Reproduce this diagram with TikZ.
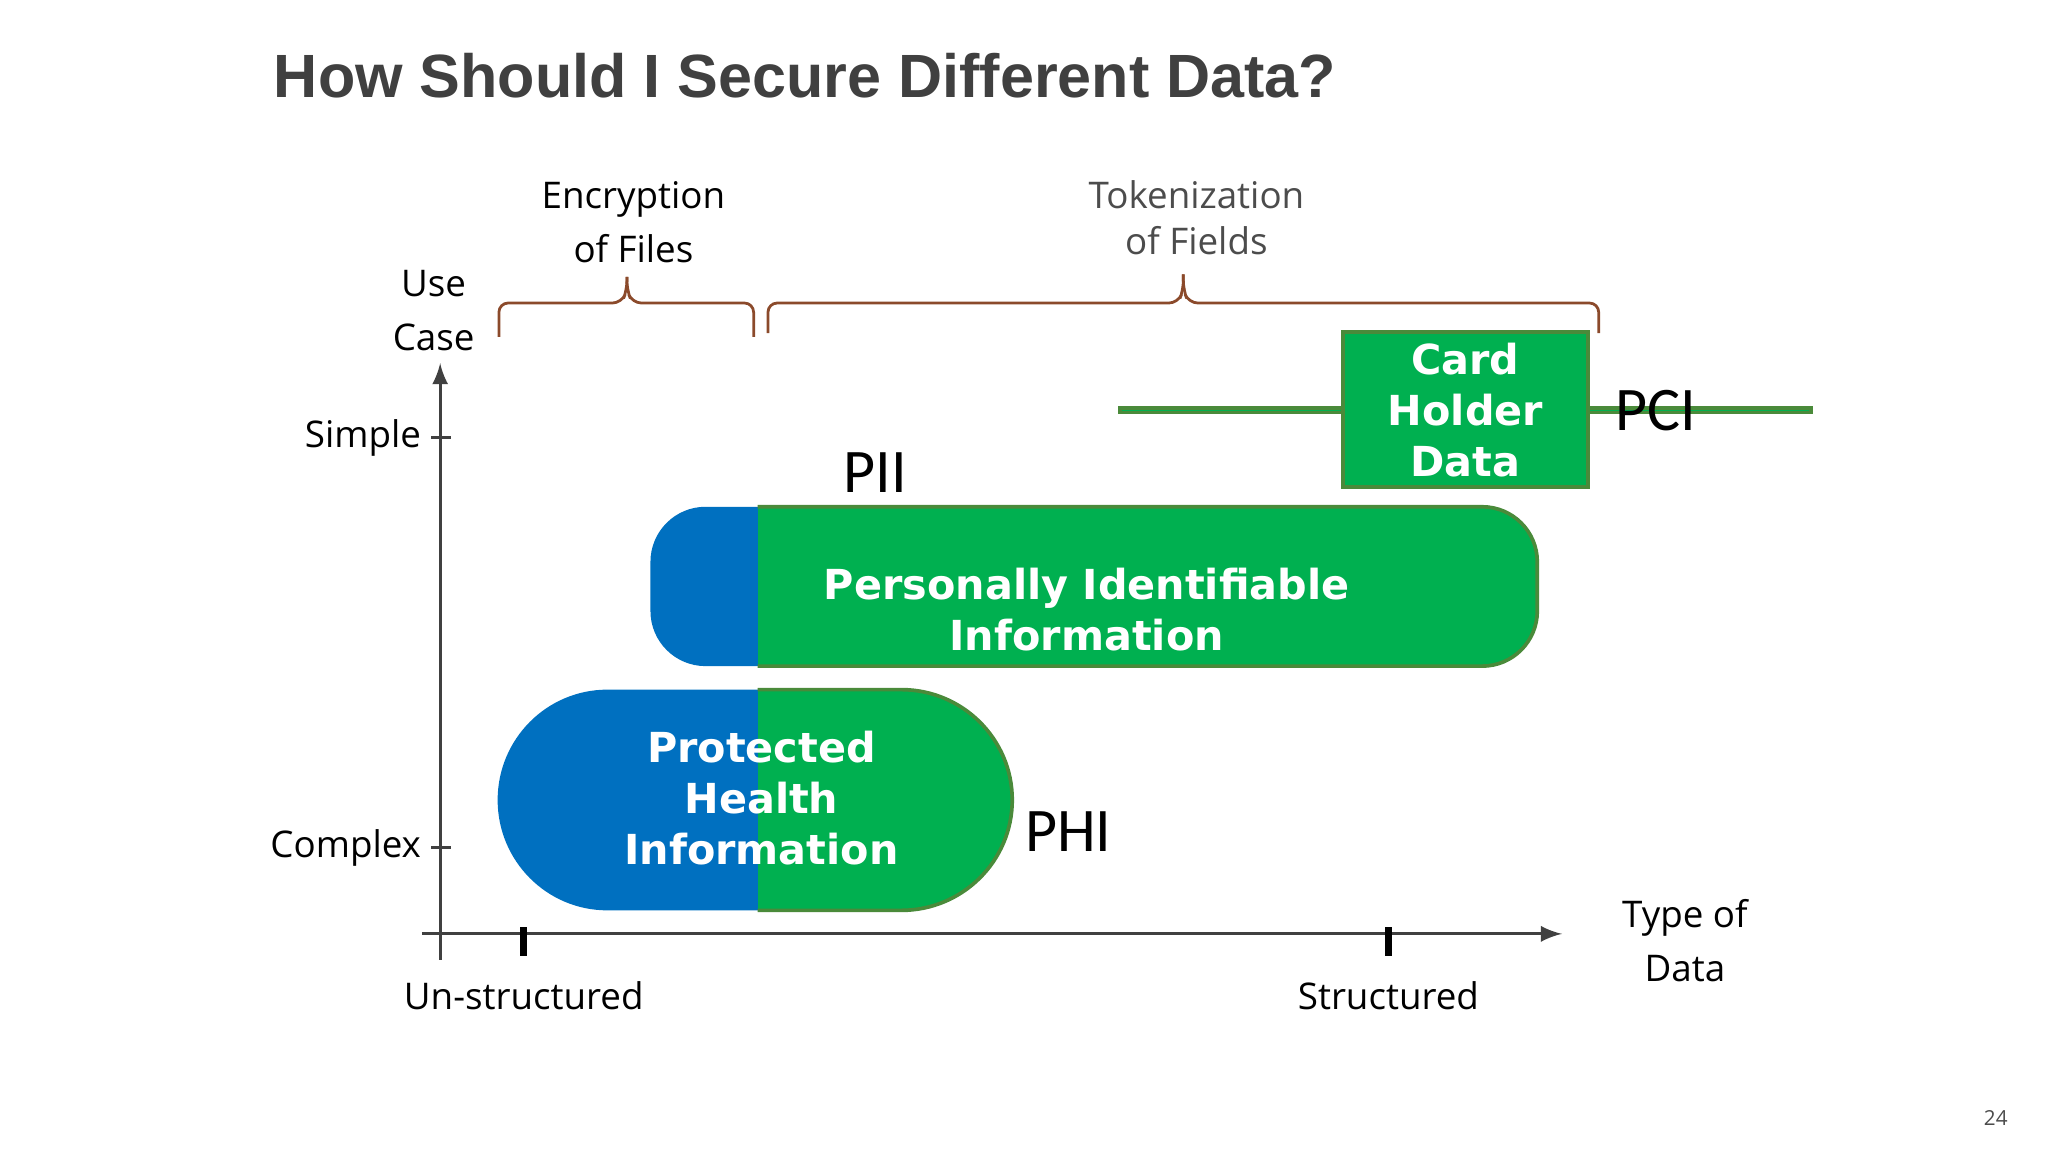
\documentclass[tikz,border=0pt]{standalone}
\usepackage{fontspec}
\setmainfont{Open Sans}
\newfontfamily\titlefont{Liberation Sans}
\newfontfamily\boxfont{DejaVu Sans}
\newfontfamily\bigfont{Carlito}
\definecolor{myblue}{HTML}{0070C0}
\definecolor{mygreen}{HTML}{00B050}
\definecolor{myborder}{HTML}{4A8A3A}
\definecolor{mybrown}{HTML}{8B4A2B}
\definecolor{titlegray}{HTML}{404040}
\begin{document}
\begin{tikzpicture}[x=0.01cm,y=-0.01cm,
  lbl/.style={font=\fontsize{8}{11}\selectfont,align=center,text=black,inner sep=0},
  wtxt/.style={font=\boxfont\bfseries\fontsize{9}{11.1}\selectfont,align=center,text=white,inner sep=0},
  big/.style={font=\bigfont\fontsize{13.5}{16}\selectfont,inner sep=0},
  brc/.style={draw=mybrown,line width=0.6pt,rounded corners=2pt},
  ax/.style={draw=black!75,line width=0.6pt}]
\useasboundingbox (0,0) rectangle (1568,882);
\node[font=\titlefont\bfseries\fontsize{13.3}{16}\selectfont,text=titlegray,anchor=west,inner sep=0] (title) at (209,58) {How Should I Secure Different Data?};
% braces
\draw[brc] (382,258) -- (382,232) -- (476,232) -- (480,222) -- (480,212);
\draw[brc] (480,212) -- (480,222) -- (484,232) -- (577,232) -- (577,258);
\draw[brc] (588,255) -- (588,232) -- (902,232) -- (906,222) -- (906,210);
\draw[brc] (906,210) -- (906,222) -- (910,232) -- (1224,232) -- (1224,255);
\node[lbl] (enc) at (485,170) {Encryption\\[0.7pt]of Files};
\node[lbl,text=black!70] (tok) at (916,167) {Tokenization\\[-1pt]of Fields};
\node[lbl] (uc) at (332,238) {Use\\[0.7pt]Case};
% axes
\coordinate (yb) at (337,735); \coordinate (yt) at (337,278);
\coordinate (xl) at (323,715); \coordinate (xr) at (1196,715);
\draw[ax,-latex] (yb) -- (yt);
\draw[ax,-latex] (xl) -- (xr);
\draw[ax] (330,335) -- (345,335);
\draw[ax] (330,649) -- (345,649);
\draw[line width=1.6pt] (401,710) -- (401,732);
\draw[line width=1.6pt] (1063,710) -- (1063,732);
\node[lbl,anchor=east] (simple) at (323,335) {Simple};
\node[lbl,anchor=east] (complex) at (323,649) {Complex};
\node[lbl] (uns) at (401,762) {Un-structured};
\node[lbl] (str) at (1063,762) {Structured};
\node[lbl] (tod) at (1290,720) {Type of\\[0.7pt]Data};
% PHI pill
\begin{scope}
\clip (465,528) -- (690,528) arc[start angle=90,end angle=-90,x radius=85,y radius=-84.5] -- (465,697) arc[start angle=-90,end angle=-270,x radius=84,y radius=-84.5] -- cycle;
\fill[myblue] (370,520) rectangle (580,705);
\fill[mygreen] (580,520) rectangle (790,705);
\end{scope}
\draw[myborder,line width=0.8pt] (580,528) -- (690,528) arc[start angle=90,end angle=-90,x radius=85,y radius=-84.5] -- (580,697);
\node[wtxt] (phi) at (583,611) {Protected\\Health\\Information};
% PII
\begin{scope}
\clip[rounded corners=12pt] (498,388) rectangle (1177,510);
\fill[myblue] (490,380) rectangle (580,520);
\fill[mygreen] (580,380) rectangle (1185,520);
\end{scope}
\draw[myborder,line width=0.8pt,rounded corners=12pt] (580,388) -- (1177,388) -- (1177,510) -- (580,510);
\node[wtxt] (pii) at (832,467) {Personally Identifiable\\Information};
% Card holder
\node[draw=myborder,line width=0.8pt,fill=mygreen,minimum width=188\pgflinewidth,inner sep=0] (chd) at (1122,314) {};
\fill[mygreen,draw=myborder,line width=0.8pt] (1028,254) rectangle (1216,373);
\node[wtxt] (card) at (1122,314) {Card\\Holder\\Data};
\node[big] (piil) at (670,362) {PII};
\node[big] (phil) at (818,637) {PHI};
\node[big] (pci) at (1268,314) {PCI};
\node[font=\fontsize{4.5}{5}\selectfont,text=black!70,inner sep=0] (pg) at (1528,856) {24};
\end{tikzpicture}
\end{document}
